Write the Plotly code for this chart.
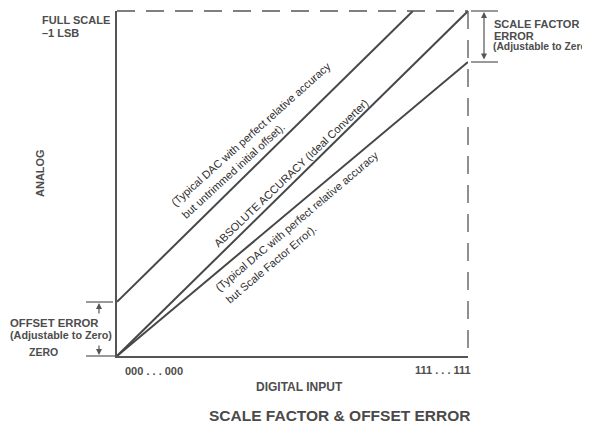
import plotly.graph_objects as go

# ---- data ----
digital_codes = ["000 . . . 000", "111 . . . 111"]
x_input = [0, 1]
ideal_y = [0, 1]
offset_x = [0, 0.843]
offset_y = [0.157, 1.0]
scale_x = [0, 1]
scale_y = [0, 0.852]

offset_label = ["(Typical DAC with perfect relative accuracy", "but untrimmed initial offset)."]
ideal_label = ["ABSOLUTE ACCURACY (Ideal Converter)"]
scale_label = ["(Typical DAC with perfect relative accuracy", "but Scale Factor Error)."]

# ---- layout geometry (pixels in the 590x434 window) ----
PAGE = 8  # default body margin of the html page
L, R, T, B = 117, 468, 11, 356
W, H = R - L, B - T


def px(x):
    return (x - L) / W


def py(y):
    return (B - y) / H


INK = "#474747"
FONT = "Liberation Sans, Arial, sans-serif"

fig = go.Figure()
for xs, ys in [(x_input, ideal_y), (offset_x, offset_y), (scale_x, scale_y)]:
    fig.add_trace(go.Scatter(x=xs, y=ys, mode="lines",
                             line=dict(color=INK, width=2), showlegend=False,
                             hoverinfo="skip"))

shapes = [
    dict(type="line", xref="paper", yref="paper", x0=0, x1=1, y0=1, y1=1,
         line=dict(color="#555", width=1.3, dash="18px,11px")),
    dict(type="line", xref="paper", yref="paper", x0=1, x1=1, y0=1, y1=0,
         line=dict(color="#555", width=1.3, dash="18px,11px")),
    dict(type="line", xref="paper", yref="paper", x0=px(86), x1=px(113), y0=py(302), y1=py(302),
         line=dict(color="#555", width=1.2)),
    dict(type="line", xref="paper", yref="paper", x0=px(86), x1=px(117), y0=py(356), y1=py(356),
         line=dict(color="#555", width=1.2)),
    dict(type="line", xref="paper", yref="paper", x0=px(471), x1=px(498), y0=py(11), y1=py(11),
         line=dict(color="#555", width=1.2)),
    dict(type="line", xref="paper", yref="paper", x0=px(471), x1=px(498), y0=py(62), y1=py(62),
         line=dict(color="#555", width=1.2)),
]

ann = []


def text(x, y, s, size=11, bold=True, xanchor="left", angle=0, align="left", color="#4d4d4d"):
    ann.append(dict(x=px(x), y=py(y), xref="paper", yref="paper", text=(f"<b>{s}</b>" if bold else s),
                    showarrow=False, xanchor=xanchor, yanchor="middle", textangle=angle, align=align,
                    font=dict(family=FONT, size=size, color=color)))


# left labels
text(40, 20, "FULL SCALE")
text(40, 33, "–1 LSB")
text(8, 323, "OFFSET ERROR", size=11.3)
text(8, 335, "(Adjustable to Zero)", size=10.8)
text(27, 352, "ZERO", size=10.5)
# right labels
text(492, 24, "SCALE FACTOR")
text(492, 36, "ERROR")
text(491, 47, "(Adjustable to Zero)", size=10.3)
# axis titles
text(40, 173, "ANALOG", xanchor="center", angle=-90)
text(299, 387, "DIGITAL INPUT", size=12, xanchor="center")
text(340, 415, "SCALE FACTOR &amp; OFFSET ERROR", size=15.5, xanchor="center", color="#4a4a4a")

# tick labels for digital codes
ann.append(dict(x=x_input[0], y=0, xref="x", yref="y", text=f"<b>{digital_codes[0]}</b>",
                showarrow=False, xanchor="left", yanchor="middle", xshift=6, yshift=-15,
                font=dict(family=FONT, size=11, color="#4d4d4d")))
ann.append(dict(x=x_input[1], y=0, xref="x", yref="y", text=f"<b>{digital_codes[1]}</b>",
                showarrow=False, xanchor="right", yanchor="middle", xshift=5, yshift=-14,
                font=dict(family=FONT, size=11, color="#4d4d4d")))

# rotated labels along the lines (one annotation per text line)
LBL = "#2e2e2e"
text(251, 134, offset_label[0], bold=False, xanchor="center", angle=-41.8, color=LBL)
text(233, 171, offset_label[1], bold=False, xanchor="center", angle=-42.5, color=LBL)
text(291, 173, ideal_label[0], bold=False, xanchor="center", angle=-43.7, color=LBL)
text(297, 221, scale_label[0], bold=False, xanchor="center", angle=-40.3, color=LBL)
text(271, 264, scale_label[1], bold=False, xanchor="center", angle=-40.3, color=LBL)

# arrows
arrow = dict(xref="paper", yref="paper", text="", showarrow=True, arrowhead=2, arrowsize=1,
             arrowwidth=1.2, arrowcolor="#555", ax=0)
ann.append(dict(arrow, x=px(484), y=py(12), ay=49, arrowside="end+start"))
ann.append(dict(arrow, x=px(99), y=py(303), ay=12))
ann.append(dict(arrow, x=px(99), y=py(355), ay=-11))

fig.update_layout(
    width=590 - PAGE, height=434 - PAGE,
    margin=dict(l=L - PAGE, r=590 - R, t=T - PAGE, b=434 - B),
    paper_bgcolor="white", plot_bgcolor="white",
    xaxis=dict(range=[0, 1], showgrid=False, zeroline=False, showticklabels=False, ticks="",
               showline=True, linecolor="#555", linewidth=1.5, fixedrange=True),
    yaxis=dict(range=[0, 1], showgrid=False, zeroline=False, showticklabels=False, ticks="",
               showline=True, linecolor="#555", linewidth=1.5, fixedrange=True),
    shapes=shapes,
    annotations=ann,
    showlegend=False,
)

fig.write_html("out.html")
